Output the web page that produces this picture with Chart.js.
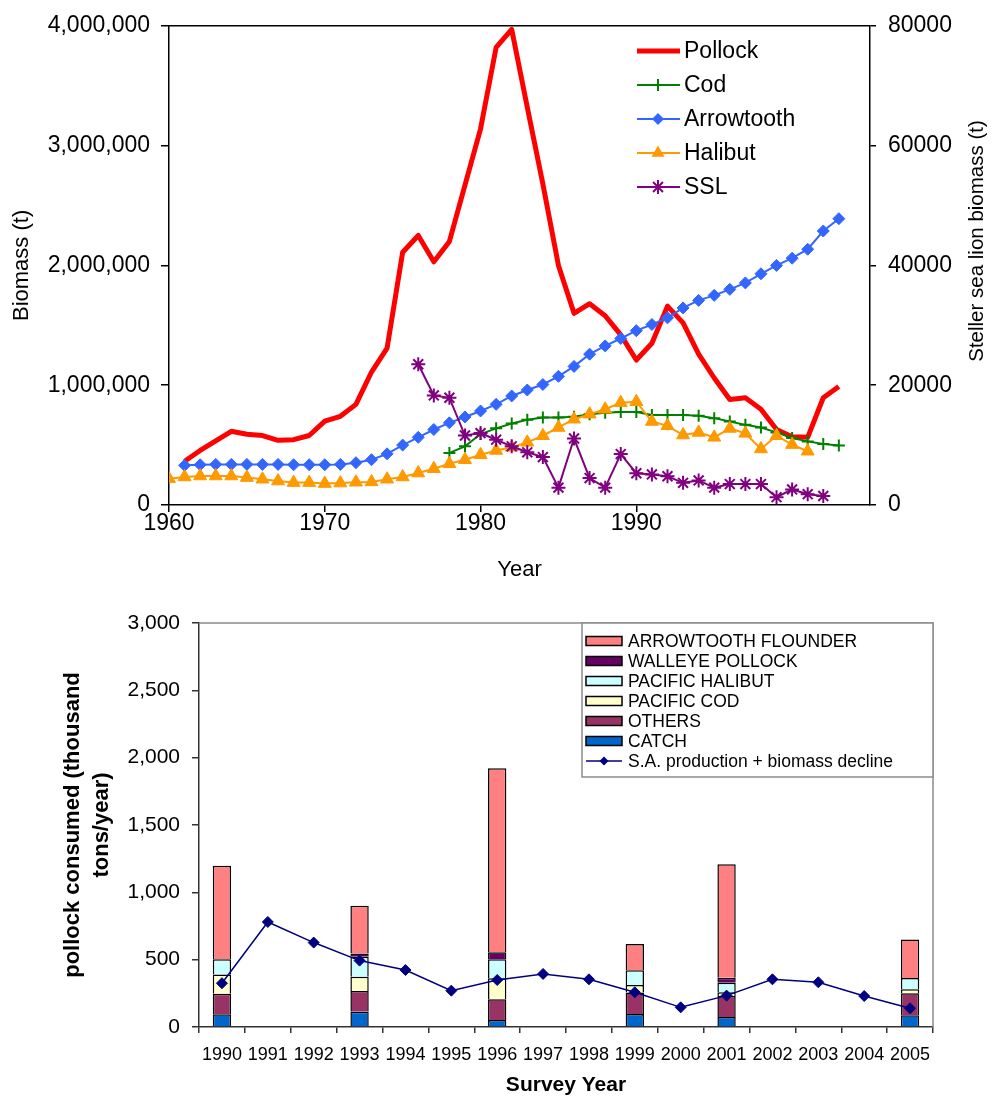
<!DOCTYPE html>
<html lang="en">
<head>
    <meta charset="UTF-8">
    <title>Pollock biomass and consumption</title>
    <script src="https://cdn.jsdelivr.net/npm/chart.js"></script>
    <style>
        body { margin: 0; background: #fff; }
        canvas { display: block; }
    </style>
</head>
<body>
    <canvas id="biomassChart" width="992" height="590"></canvas>
    <canvas id="consumptionChart" width="992" height="513"></canvas>

    <script>
        // ---- biomass series (t), one value per year, null = no estimate
        const years = [1960, 1961, 1962, 1963, 1964, 1965, 1966, 1967, 1968, 1969,
                       1970, 1971, 1972, 1973, 1974, 1975, 1976, 1977, 1978, 1979,
                       1980, 1981, 1982, 1983, 1984, 1985, 1986, 1987, 1988, 1989,
                       1990, 1991, 1992, 1993, 1994, 1995, 1996, 1997, 1998, 1999,
                       2000, 2001, 2002, 2003];

        const pollock = [null, 365000, 455000, 535000, 615000, 590000, 580000, 540000, 545000, 580000,
                         700000, 740000, 840000, 1110000, 1310000, 2110000, 2250000, 2030000, 2200000, 2670000,
                         3140000, 3820000, 3970000, 3320000, 2680000, 2000000, 1600000, 1680000, 1580000, 1420000,
                         1210000, 1350000, 1660000, 1520000, 1260000, 1060000, 880000, 895000, 800000, 630000,
                         570000, 565000, 895000, 990000];

        const cod = [null, null, null, null, null, null, null, null, null, null,
                     null, null, null, null, null, null, null, null, 435000, 490000,
                     592000, 640000, 680000, 712000, 730000, 730000, 736000, 758000, 771000, 777000,
                     777000, 752000, 752000, 752000, 744000, 725000, 697000, 669000, 647000, 606000,
                     559000, 531000, 510000, 496000];

        const arrowtooth = [null, 331000, 336000, 339000, 339000, 339000, 339000, 339000, 336000, 336000,
                            336000, 339000, 353000, 378000, 427000, 500000, 565000, 630000, 686000, 735000,
                            785000, 840000, 910000, 960000, 1006000, 1074000, 1157000, 1259000, 1328000, 1390000,
                            1455000, 1507000, 1562000, 1645000, 1708000, 1750000, 1800000, 1854000, 1930000, 2000000,
                            2060000, 2135000, 2287000, 2390000];

        const halibut = [220000, 234000, 242000, 242000, 242000, 229000, 215000, 200000, 187000, 187000,
                         179000, 183000, 190000, 193000, 215000, 234000, 267000, 303000, 344000, 378000,
                         419000, 455000, 482000, 523000, 578000, 647000, 716000, 758000, 799000, 854000,
                         862000, 697000, 661000, 584000, 606000, 565000, 639000, 598000, 468000, 578000,
                         504000, 449000, null, null];

        // Steller sea lions, right axis
        const ssl = [null, null, null, null, null, null, null, null, null, null,
                     null, null, null, null, null, null, 23500, 18300, 17900, 11600,
                     12000, 10900, 9800, 8800, 8000, 2900, 11100, 4500, 2900, 8500,
                     5300, 5100, 4800, 3700, 4100, 2900, 3500, 3500, 3500, 1300,
                     2600, 1800, 1500, null];

        // ---- pollock consumed (thousand tons/year)
        const surveyYears = ['1990', '1991', '1992', '1993', '1994', '1995', '1996', '1997',
                             '1998', '1999', '2000', '2001', '2002', '2003', '2004', '2005'];
        const catchT      = [95, null, null, 114, null, null, 52, null, null, 96, null, 74, null, null, null, 87];
        const others      = [151, null, null, 153, null, null, 154, null, null, 161, null, 156, null, null, null, 163];
        const pacificCod  = [144, null, null, 107, null, null, 156, null, null, 54, null, 28, null, null, null, 30];
        const pacHalibut  = [114, null, null, 148, null, null, 141, null, null, 111, null, 71, null, null, null, 84];
        const walleye     = [0, null, null, 23, null, null, 52, null, null, 0, null, 37, null, null, null, 0];
        const atfFlounder = [693, null, null, 356, null, null, 1367, null, null, 194, null, 843, null, null, null, 285];
        const saProduction = [325, 780, 627, 493, 423, 270, 349, 394, 354, 258, 146, 233, 354, 332, 230, 139];

        const FONT = '"Liberation Sans", Arial, Helvetica, sans-serif';
        Chart.defaults.font.family = FONT;
        Chart.defaults.color = '#000';

        function pts(vals) {
            return years.map((yr, i) => ({ x: yr, y: vals[i] }));
        }

        // small marker painter for the hand-drawn legends
        function marker(ctx, style, x, y, r, color, lw) {
            ctx.save();
            ctx.fillStyle = color;
            ctx.strokeStyle = color;
            ctx.lineWidth = lw;
            ctx.beginPath();
            if (style === 'rectRot') {
                ctx.moveTo(x, y - r); ctx.lineTo(x + r, y); ctx.lineTo(x, y + r); ctx.lineTo(x - r, y);
                ctx.closePath(); ctx.fill();
            } else if (style === 'triangle') {
                ctx.moveTo(x, y - r); ctx.lineTo(x + r * 0.866, y + r / 2); ctx.lineTo(x - r * 0.866, y + r / 2);
                ctx.closePath(); ctx.fill();
            } else if (style === 'cross') {
                ctx.moveTo(x - r, y); ctx.lineTo(x + r, y); ctx.moveTo(x, y - r); ctx.lineTo(x, y + r);
                ctx.stroke();
            } else if (style === 'star') {
                const d = r * 0.707;
                ctx.moveTo(x - r, y); ctx.lineTo(x + r, y); ctx.moveTo(x, y - r); ctx.lineTo(x, y + r);
                ctx.moveTo(x - d, y - d); ctx.lineTo(x + d, y + d); ctx.moveTo(x - d, y + d); ctx.lineTo(x + d, y - d);
                ctx.stroke();
            }
            ctx.restore();
        }

        const biomassDecor = {
            id: 'biomassDecor',
            afterDraw(chart) {
                const { ctx, chartArea: a } = chart;
                ctx.save();
                // top edge of the plot frame
                ctx.strokeStyle = '#000';
                ctx.lineWidth = 1.5;
                ctx.beginPath();
                ctx.moveTo(a.left, a.top);
                ctx.lineTo(a.right, a.top);
                ctx.stroke();

                // right axis title, reading upwards
                ctx.font = '20.5px ' + FONT;
                ctx.fillStyle = '#000';
                ctx.textAlign = 'center';
                ctx.textBaseline = 'middle';
                ctx.translate(977, 241);
                ctx.rotate(-Math.PI / 2);
                ctx.fillText('Steller sea lion biomass (t)', 0, 0);
                ctx.restore();

                // legend inside the plot
                ctx.save();
                ctx.font = '23px ' + FONT;
                ctx.textBaseline = 'middle';
                ctx.textAlign = 'left';
                chart.data.datasets.forEach((ds, i) => {
                    const y = 51 + i * 34;
                    ctx.strokeStyle = ds.borderColor;
                    ctx.lineWidth = ds.borderWidth;
                    ctx.beginPath();
                    ctx.moveTo(637, y);
                    ctx.lineTo(680, y);
                    ctx.stroke();
                    if (ds.pointRadius) {
                        marker(ctx, ds.pointStyle, 658, y, ds.pointRadius, ds.borderColor, ds.pointBorderWidth);
                    }
                    ctx.fillStyle = '#000';
                    ctx.fillText(ds.label, 684, y + 1);
                });
                ctx.restore();
            }
        };

        new Chart(document.getElementById('biomassChart'), {
            type: 'line',
            data: {
                datasets: [
                    { label: 'Pollock', data: pts(pollock), borderColor: '#FF0000', backgroundColor: '#FF0000',
                      borderWidth: 5, pointRadius: 0, borderJoinStyle: 'round', yAxisID: 'y', order: 5 },
                    { label: 'Cod', data: pts(cod), borderColor: '#008000', backgroundColor: '#008000',
                      borderWidth: 2, pointStyle: 'cross', pointRadius: 6, pointBorderWidth: 2, yAxisID: 'y', order: 4 },
                    { label: 'Arrowtooth', data: pts(arrowtooth), borderColor: '#3366FF', backgroundColor: '#3366FF',
                      borderWidth: 2, pointStyle: 'rectRot', pointRadius: 6, pointBorderWidth: 1, yAxisID: 'y', order: 3 },
                    { label: 'Halibut', data: pts(halibut), borderColor: '#FF9900', backgroundColor: '#FF9900',
                      borderWidth: 2, pointStyle: 'triangle', pointRadius: 7.5, pointBorderWidth: 1, yAxisID: 'y', order: 2 },
                    { label: 'SSL', data: pts(ssl), borderColor: '#800080', backgroundColor: '#800080',
                      borderWidth: 2, pointStyle: 'star', pointRadius: 7, pointBorderWidth: 2, yAxisID: 'y2', order: 1 }
                ]
            },
            options: {
                responsive: false,
                animation: false,
                events: [],
                layout: { padding: { top: 21, left: 0, right: 0, bottom: 0 } },
                plugins: { legend: { display: false }, tooltip: { enabled: false } },
                elements: { line: { tension: 0 } },
                scales: {
                    x: {
                        type: 'linear', min: 1960, max: 2005,
                        afterBuildTicks: s => { s.ticks = s.ticks.filter(t => t.value % 10 === 0); },
                        afterFit: s => { s.height = 85; },
                        ticks: { stepSize: 10, font: { size: 23 }, padding: -2, callback: v => String(v) },
                        grid: { drawOnChartArea: false, tickLength: 7, color: '#000', lineWidth: 1.5 },
                        border: { color: '#000', width: 1.5 },
                        title: { display: true, text: 'Year', font: { size: 22 }, padding: { top: 0, bottom: 7 } }
                    },
                    y: {
                        position: 'left', min: 0, max: 4000000,
                        afterFit: s => { s.width = 169; },
                        ticks: { stepSize: 1000000, font: { size: 23 }, padding: 11,
                                 callback: v => v.toLocaleString('en-US') },
                        grid: { drawOnChartArea: false, tickLength: 8, color: '#000', lineWidth: 1.5 },
                        border: { color: '#000', width: 1.5 },
                        title: { display: true, text: 'Biomass (t)', font: { size: 22 }, padding: { top: 9, bottom: 0 } }
                    },
                    y2: {
                        position: 'right', min: 0, max: 80000,
                        afterFit: s => { s.width = 122; },
                        ticks: { stepSize: 20000, font: { size: 23 }, padding: 12, callback: v => String(v) },
                        grid: { drawOnChartArea: false, tickLength: 6, color: '#000', lineWidth: 1.5 },
                        border: { color: '#000', width: 1.5 }
                    }
                }
            },
            plugins: [biomassDecor]
        });

        // ---- lower chart: stacked consumption bars + line
        const barBorder = '#000';
        const barSeries = [
            { label: 'CATCH', data: catchT, color: '#0066CC' },
            { label: 'OTHERS', data: others, color: '#993366' },
            { label: 'PACIFIC COD', data: pacificCod, color: '#FFFFCC' },
            { label: 'PACIFIC HALIBUT', data: pacHalibut, color: '#CCFFFF' },
            { label: 'WALLEYE POLLOCK', data: walleye, color: '#660066' },
            { label: 'ARROWTOOTH FLOUNDER', data: atfFlounder, color: '#FF8080' }
        ];

        const consumptionDecor = {
            id: 'consumptionDecor',
            beforeDatasetsDraw(chart) {
                const { ctx, chartArea: a } = chart;
                ctx.save();
                ctx.strokeStyle = '#8c8c8c';
                ctx.lineWidth = 1.5;
                ctx.beginPath();
                ctx.moveTo(a.left, a.top);
                ctx.lineTo(a.right, a.top);
                ctx.lineTo(a.right, a.bottom);
                ctx.stroke();
                ctx.restore();
            },
            afterDraw(chart) {
                const { ctx, chartArea: a } = chart;
                const boxL = 582, boxT = a.top, boxR = a.right, boxB = a.top + 154;
                ctx.save();
                ctx.fillStyle = '#fff';
                ctx.fillRect(boxL, boxT, boxR - boxL, boxB - boxT);
                ctx.strokeStyle = '#8c8c8c';
                ctx.lineWidth = 1.5;
                ctx.strokeRect(boxL, boxT, boxR - boxL, boxB - boxT);

                ctx.font = '17.5px ' + FONT;
                ctx.textBaseline = 'middle';
                ctx.fillStyle = '#000';
                const rows = barSeries.slice().reverse();
                rows.forEach((s, i) => {
                    const y = boxT + 18 + i * 20;
                    ctx.fillStyle = s.color;
                    ctx.fillRect(586, y - 4.5, 36, 9);
                    ctx.strokeStyle = '#000';
                    ctx.lineWidth = 1.5;
                    ctx.strokeRect(586, y - 4.5, 36, 9);
                    ctx.fillStyle = '#000';
                    ctx.fillText(s.label, 628, y + 1);
                });
                const ly = boxT + 18 + 6 * 20;
                ctx.strokeStyle = '#000080';
                ctx.lineWidth = 1.5;
                ctx.beginPath();
                ctx.moveTo(586, ly);
                ctx.lineTo(622, ly);
                ctx.stroke();
                marker(ctx, 'rectRot', 604, ly, 4.5, '#000080', 1);
                ctx.fillStyle = '#000';
                ctx.fillText('S.A. production + biomass decline', 628, ly + 1);
                ctx.restore();
            }
        };

        const consumptionSets = barSeries.map(s => ({
            type: 'bar', label: s.label, data: s.data, backgroundColor: s.color,
            borderColor: barBorder, borderWidth: 1.5, stack: 'prey', order: 1,
            categoryPercentage: 1, barPercentage: 0.4
        }));
        consumptionSets.push({
            type: 'line', label: 'S.A. production + biomass decline', data: saProduction,
            borderColor: '#000080', backgroundColor: '#000080', borderWidth: 1.5,
            pointStyle: 'rectRot', pointRadius: 5.5, pointBorderWidth: 1, tension: 0,
            stack: 'sa', order: 0
        });

        new Chart(document.getElementById('consumptionChart'), {
            type: 'bar',
            data: { labels: surveyYears, datasets: consumptionSets },
            options: {
                responsive: false,
                animation: false,
                events: [],
                layout: { padding: { top: 33, left: 0, right: 59, bottom: 0 } },
                plugins: { legend: { display: false }, tooltip: { enabled: false } },
                scales: {
                    x: {
                        stacked: true,
                        afterFit: s => { s.height = 76; },
                        ticks: { font: { size: 18 }, padding: 11, maxRotation: 0, autoSkip: false },
                        grid: { offset: true, drawOnChartArea: false, tickLength: 6, color: '#333', lineWidth: 1.5 },
                        border: { color: '#333', width: 1.5 },
                        title: { display: true, text: 'Survey Year', font: { size: 21, weight: 'bold' },
                                 padding: { top: 0, bottom: 5 } }
                    },
                    y: {
                        stacked: true, min: 0, max: 3000,
                        afterFit: s => { s.width = 199; },
                        ticks: { stepSize: 500, font: { size: 21 }, padding: 12,
                                 callback: v => v.toLocaleString('en-US') },
                        grid: { drawOnChartArea: false, tickLength: 7, color: '#333', lineWidth: 1.5 },
                        border: { color: '#333', width: 1.5 },
                        title: { display: true, text: ['pollock consumed (thousand', 'tons/year)'],
                                 font: { size: 22, weight: 'bold', lineHeight: 1.3 }, padding: { top: 59, bottom: 0 } }
                    }
                }
            },
            plugins: [consumptionDecor]
        });
    </script>
</body>
</html>
